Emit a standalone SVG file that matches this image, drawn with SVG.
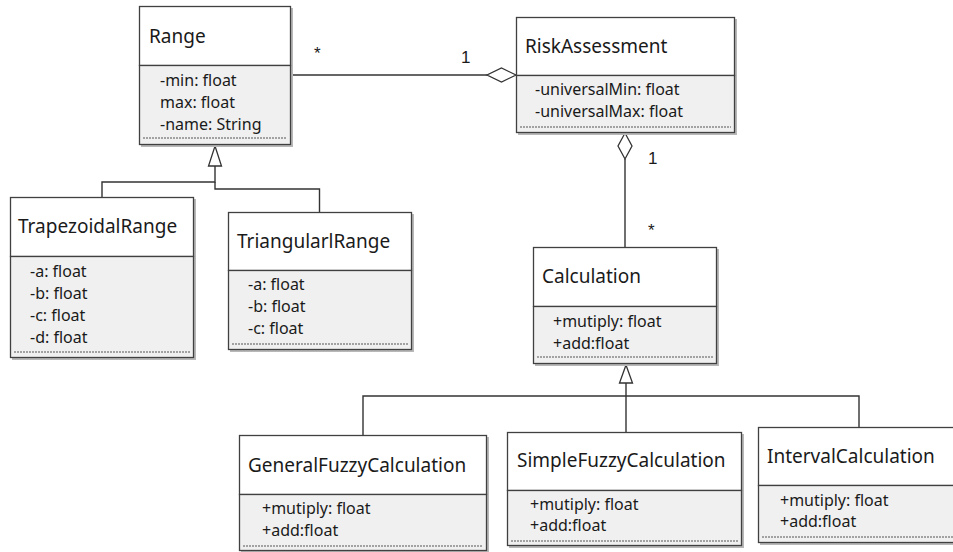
<svg xmlns="http://www.w3.org/2000/svg" width="953" height="552" viewBox="0 0 953 552">
  <defs>
    <style>
      .shadow { fill: #b8b8b8; }
      .head { fill: #ffffff; stroke: #404040; stroke-width: 1.3; }
      .body { fill: #f0f0f0; stroke: #404040; stroke-width: 1.3; }
      .dash { stroke: #555555; stroke-width: 1; stroke-dasharray: 2 1; fill: none; }
      .title { font-family: "Noto Sans", "Open Sans", sans-serif; font-size: 19px; fill: #1a1a1a; }
      .attr { font-family: "Noto Sans", "Open Sans", sans-serif; font-size: 16px; fill: #1a1a1a; }
      .mult { font-family: "Liberation Sans", sans-serif; font-size: 17px; fill: #1a1a1a; }
      .line { stroke: #333333; stroke-width: 1.4; fill: none; }
      .open { stroke: #333333; stroke-width: 1.3; fill: #ffffff; }
    </style>
  </defs>

  <!-- connectors -->
  <g id="connectors">
    <!-- Range * ... 1 RiskAssessment (aggregation) -->
    <polyline class="line" points="291,75 487,75"/>
    <polygon class="open" points="516,75 501.5,68 487,75 501.5,82"/>
    <text class="mult" x="314" y="59">*</text>
    <text class="mult" x="461" y="63">1</text>

    <!-- RiskAssessment 1 ... * Calculation (aggregation) -->
    <polyline class="line" points="625,159 625,247"/>
    <polygon class="open" points="625,133 632,146 625,159 618,146"/>
    <text class="mult" x="648" y="164">1</text>
    <text class="mult" x="648" y="236">*</text>

    <!-- generalization to Range -->
    <polyline class="line" points="102,197 102,182 215,182 215,166"/>
    <polyline class="line" points="215,182 215,189 319.5,189 319.5,212"/>
    <polygon class="open" points="215,146 221.5,166 208.5,166"/>

    <!-- generalization to Calculation -->
    <polyline class="line" points="363,435 363,396 859,396 859,427"/>
    <polyline class="line" points="626,383 626,432"/>
    <polygon class="open" points="626,365 632.5,383 619.5,383"/>
  </g>

  <!-- Range -->
  <g id="range">
    <rect class="shadow" x="141" y="8" width="152" height="139"/>
    <rect class="head" x="139.5" y="6.5" width="151" height="59"/>
    <rect class="body" x="139.5" y="65.5" width="151" height="79"/>
    <line class="dash" x1="143" y1="138" x2="286" y2="138"/>
    <text class="title" x="149" y="43">Range</text>
    <text class="attr" x="160" y="86">-min: float</text>
    <text class="attr" x="160" y="108">max: float</text>
    <text class="attr" x="160" y="130">-name: String</text>
  </g>

  <!-- RiskAssessment -->
  <g id="riskassessment">
    <rect class="shadow" x="518" y="19" width="219" height="116"/>
    <rect class="head" x="516.5" y="17.5" width="218" height="58"/>
    <rect class="body" x="516.5" y="75.5" width="218" height="57"/>
    <line class="dash" x1="520" y1="127" x2="731" y2="127"/>
    <text class="title" x="525" y="53">RiskAssessment</text>
    <text class="attr" x="535" y="95">-universalMin: float</text>
    <text class="attr" x="535" y="117">-universalMax: float</text>
  </g>

  <!-- TrapezoidalRange -->
  <g id="trapezoidalrange">
    <rect class="shadow" x="12" y="199" width="184" height="161"/>
    <rect class="head" x="10.5" y="197.5" width="183" height="59"/>
    <rect class="body" x="10.5" y="256.5" width="183" height="101"/>
    <line class="dash" x1="14" y1="352" x2="190" y2="352"/>
    <text class="title" x="18" y="233">TrapezoidalRange</text>
    <text class="attr" x="30" y="277">-a: float</text>
    <text class="attr" x="30" y="299">-b: float</text>
    <text class="attr" x="30" y="321">-c: float</text>
    <text class="attr" x="30" y="343">-d: float</text>
  </g>

  <!-- TriangularlRange -->
  <g id="triangularrange">
    <rect class="shadow" x="230" y="214" width="184" height="138"/>
    <rect class="head" x="228.5" y="212.5" width="183" height="58"/>
    <rect class="body" x="228.5" y="270.5" width="183" height="79"/>
    <line class="dash" x1="232" y1="344" x2="408" y2="344"/>
    <text class="title" x="237" y="248">TriangularlRange</text>
    <text class="attr" x="248" y="290">-a: float</text>
    <text class="attr" x="248" y="312">-b: float</text>
    <text class="attr" x="248" y="334">-c: float</text>
  </g>

  <!-- Calculation -->
  <g id="calculation">
    <rect class="shadow" x="535" y="249" width="184" height="117"/>
    <rect class="head" x="533.5" y="247.5" width="183" height="59"/>
    <rect class="body" x="533.5" y="306.5" width="183" height="57"/>
    <line class="dash" x1="537" y1="357" x2="713" y2="357"/>
    <text class="title" x="542" y="283">Calculation</text>
    <text class="attr" x="553" y="327">+mutiply: float</text>
    <text class="attr" x="553" y="349">+add:float</text>
  </g>

  <!-- GeneralFuzzyCalculation -->
  <g id="generalfuzzycalculation">
    <rect class="shadow" x="241" y="437" width="248" height="116"/>
    <rect class="head" x="239.5" y="435.5" width="247" height="59"/>
    <rect class="body" x="239.5" y="494.5" width="247" height="56"/>
    <line class="dash" x1="243" y1="546" x2="483" y2="546"/>
    <text class="title" x="248" y="472">GeneralFuzzyCalculation</text>
    <text class="attr" x="262" y="514">+mutiply: float</text>
    <text class="attr" x="262" y="536">+add:float</text>
  </g>

  <!-- SimpleFuzzyCalculation -->
  <g id="simplefuzzycalculation">
    <rect class="shadow" x="509" y="434" width="235" height="114"/>
    <rect class="head" x="507.5" y="432.5" width="234" height="58"/>
    <rect class="body" x="507.5" y="490.5" width="234" height="55"/>
    <line class="dash" x1="511" y1="541" x2="738" y2="541"/>
    <text class="title" x="517" y="467">SimpleFuzzyCalculation</text>
    <text class="attr" x="530" y="510">+mutiply: float</text>
    <text class="attr" x="530" y="531">+add:float</text>
  </g>

  <!-- IntervalCalculation -->
  <g id="intervalcalculation">
    <rect class="shadow" x="760" y="429" width="200" height="116"/>
    <rect class="head" x="758.5" y="427.5" width="200" height="58"/>
    <rect class="body" x="758.5" y="485.5" width="200" height="57"/>
    <line class="dash" x1="762" y1="537" x2="953" y2="537"/>
    <text class="title" x="767" y="463">IntervalCalculation</text>
    <text class="attr" x="780" y="506">+mutiply: float</text>
    <text class="attr" x="780" y="527">+add:float</text>
  </g>
</svg>
